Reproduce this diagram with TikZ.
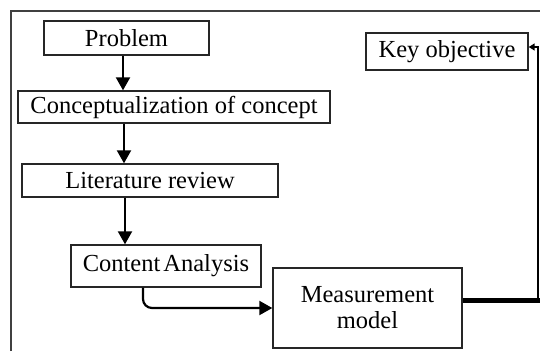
\documentclass[tikz,border=0pt]{standalone}
\usepackage{fontspec}
\setmainfont{Liberation Serif}
\usetikzlibrary{arrows.meta,calc}
\begin{document}
\begin{tikzpicture}[x=1pt,y=-1pt,
  box/.style={draw=black!85,line width=1.4pt,inner sep=0pt,
    font=\fontsize{24.5}{26}\selectfont,align=center},
  arr/.style={draw=black,line width=2.2pt,-{Triangle[length=13pt,width=14pt]}},
  frame/.style={draw=black!75,line width=1.5pt}]
  % canvas
  \useasboundingbox (0,0) rectangle (540,351);
  \fill[white] (0,0) rectangle (540,351);
  % outer frame (open on the right and at the bottom)
  \draw[frame] (11,351) -- (11,11) -- (541,11);

  % process steps
  \node[box,minimum width=165pt,minimum height=34pt] (prob) at (126.5,38) {Problem};
  \node[box,minimum width=312pt,minimum height=32pt] (conc) at (174,107) {Conceptualization of concept};
  \node[box,minimum width=256pt,minimum height=33pt] (lit) at (150,180.5) {Literature review};
  \node[box,minimum width=190pt,minimum height=42pt] (cont) at (166,266) {Content\kern3pt Analysis};
  \node[box,minimum width=189pt,minimum height=80pt] (meas) at (367.5,308) {Measurement\\model};
  \node[box,minimum width=162pt,minimum height=37pt] (key) at (447,51.5) {Key objective};

  % guide coordinates for the connectors
  \coordinate (a1) at (123,0);
  \coordinate (a2) at (124,0);
  \coordinate (a3) at (125,0);
  \coordinate (a4) at (143,0);
  \coordinate (rt) at (538,300);
  \coordinate (kt) at (538,47);

  % vertical flow
  \draw[arr] (prob.south -| a1) -- (conc.north -| a1);
  \draw[arr] (conc.south -| a2) -- (lit.north -| a2);
  \draw[arr] (lit.south -| a3) -- (cont.north -| a3);
  \draw[arr,rounded corners=9pt] (cont.south -| a4) |- (meas.west);

  % feedback to the key objective
  \draw[line width=5pt] (meas.east |- rt) -- ($(rt)+(3,0)$);
  \draw[line width=1.5pt,-{Triangle[length=6pt,width=7pt]}] (rt) -- (kt) -- (kt -| key.east);
\end{tikzpicture}
\end{document}
